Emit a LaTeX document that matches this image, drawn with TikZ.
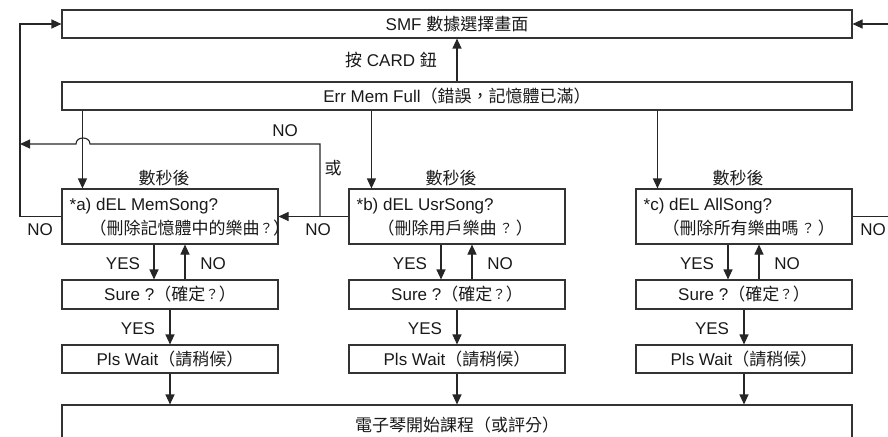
\documentclass[tikz,border=0pt]{standalone}
\usepackage{fontspec}
\setmainfont{Liberation Sans}
\newfontfamily\cjk{Noto Sans CJK TC}
\newcommand{\C}[1]{{\cjk #1}}
\newcommand{\Q}{\raisebox{1.6pt}{\fontsize{13.5}{15}\selectfont\cjk ？}}
\usetikzlibrary{arrows.meta,calc}
\begin{document}
\begin{tikzpicture}[x=1pt,y=-1pt,
  txt/.style={inner sep=0pt,text=black!90,font=\fontsize{17}{20}\selectfont},
  box/.style={txt,draw=black!80,line width=1.1pt,rectangle,minimum height=28pt},
  wide/.style={box,minimum width=790pt},
  colbox/.style={box,minimum width=216pt,minimum height=55pt},
  smallbox/.style={box,minimum width=216pt},
  conn/.style={draw=black!85,line width=1.1pt},
  arr/.style={conn,-{Triangle[length=10pt,width=9pt]}},
]
\useasboundingbox (0,0) rectangle (888,436);

% wide boxes
\node[wide] (smf) at (457,24) {SMF \C{數據選擇畫面}};
\node[wide] (err) at (457,96) {Err Mem Full\C{（錯誤，記憶體已滿）}};
\node[wide,minimum height=40pt] (end) at (457,425) {\C{電子琴開始課程（或評分）}};

\draw[arr] (err.north) -- (smf.south);
\node[txt] (btn) at (391,60) {\C{按} CARD \C{鈕}};

% question boxes
\node[colbox] (a) at (170,216.5) {};
\node[colbox] (b) at (457,216.5) {};
\node[colbox] (c) at (744,216.5) {};
\node[txt,anchor=west] (a1) at ($(a.north west)+(8,18)$) {*a) dEL MemSong?};
\node[txt,anchor=west] (a2) at ($(a.north west)+(28,40)$) {\C{（刪除記憶體中的樂曲}\Q\C{）}};
\node[txt,anchor=west] (b1) at ($(b.north west)+(8,18)$) {*b) dEL UsrSong?};
\node[txt,anchor=west] (b2) at ($(b.north west)+(29,40)$) {\C{（刪除用戶樂曲}\,\Q\,\C{）}};
\node[txt,anchor=west] (c1) at ($(c.north west)+(8,18)$) {*c) dEL AllSong?};
\node[txt,anchor=west] (c2) at ($(c.north west)+(27,40)$) {\C{（刪除所有樂曲嗎}\,\Q\,\C{）}};

% arrows from err to the three boxes
\draw[arr] ($(err.south west)+(21,0)$) -- ($(a.north west)+(21,0)$);
\draw[arr] ($(err.south -| b.west)+(23,0)$) -- ($(b.north west)+(23,0)$);
\draw[arr] ($(err.south -| c.west)+(22,0)$) -- ($(c.north west)+(22,0)$);

\foreach \n/\x in {a/170,b/457,c/744}{
  \node[txt] (dsec\n) at (\x-6,178) {\C{數秒後}};
  \node[smallbox,minimum height=29pt] (sure\n) at (\x,294.5) {Sure ?\C{（確定}\Q\C{）}};
  \node[smallbox] (wait\n) at (\x,359) {Pls Wait\C{（請稍候）}};
  \draw[arr] ([xshift=-16pt]\n.south) -- ([xshift=-16pt]sure\n.north);
  \draw[arr] ([xshift=15pt]sure\n.north) -- ([xshift=15pt]\n.south);
  \node[txt] (yesA\n) at (\x-47,264) {YES};
  \node[txt] (noA\n) at (\x+43,264) {NO};
  \draw[arr] (sure\n) -- (wait\n);
  \node[txt] (yesB\n) at (\x-32,329) {YES};
  \draw[arr] (wait\n.south) -- (wait\n.south |- end.north);
}

% NO loops
\coordinate (lx) at (20,24);
\draw[arr] (a.west) -| (lx) -- (smf.west);
\node[txt] (noL) at (40,230) {NO};

\coordinate (mj) at (320,216.5);
\coordinate (mt) at (320,144);
\coordinate (hR) at (90,144);
\coordinate (hL) at (76,144);
\coordinate (lt) at (20,144);
\draw[arr] (b.west) -- (a.east);
\draw[arr] (mj) -- (mt) -- (hR) .. controls ($(hR)+(0,-8)$) and ($(hL)+(0,-8)$) .. (hL) -- (lt);
\node[txt] (noT) at (285,131) {NO};
\node[txt] (or) at (333,168) {\C{或}};
\node[txt] (noM) at (318,230) {NO};

\coordinate (rb) at (894,216.5);
\coordinate (rt) at (894,24);
\draw[arr] (c.east) -- (rb) -- (rt) -- (smf.east);
\node[txt] (noR) at (873,230) {NO};
\end{tikzpicture}
\end{document}
